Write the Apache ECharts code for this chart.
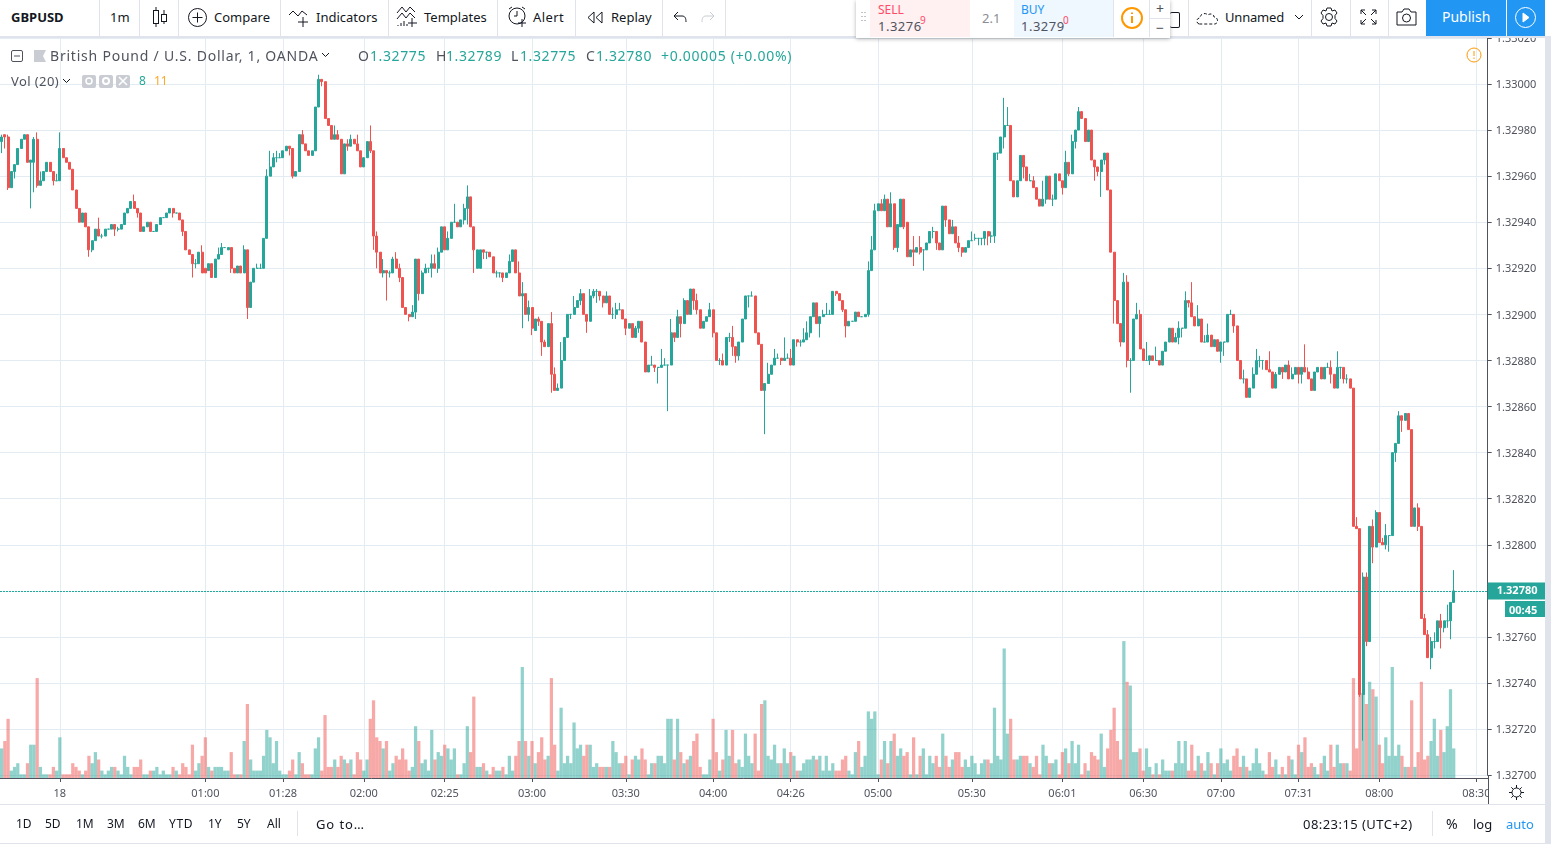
<!DOCTYPE html>
<html><head><meta charset="utf-8"><title>GBPUSD</title>
<script src="https://cdn.jsdelivr.net/npm/echarts@6/dist/echarts.min.js"></script>
<style>
html,body{margin:0;padding:0;background:#fff;overflow:hidden}
#chart{position:absolute;left:0;top:0;width:1551px;height:844px}
#ui{position:absolute;left:0;top:0;width:1551px;height:844px;pointer-events:none;font-family:"Noto Sans",sans-serif;color:#50535e}
#ui .t{position:absolute;white-space:nowrap;transform:translateY(-50%);line-height:1}
#ui .b{position:absolute}
#ui svg{position:absolute;overflow:visible;fill:none;stroke:#131722;stroke-width:1}
</style></head><body>
<div id="chart"></div><div id="ui"></div>
<script>
const priceBase = 1.32, pointSize = 0.00001;
const opens = [975,978,977,955,962,965,972,976,978,966,
966,976,956,958,962,966,962,958,958,972,
968,966,963,954,946,940,944,938,928,932,
937,934,934,937,937,939,937,937,939,944,
946,949,946,944,936,938,940,936,936,939,
942,942,944,946,944,944,941,936,928,926,
922,922,927,920,919,922,916,924,926,929,
928,929,920,918,921,918,928,903,914,920,
920,920,933,960,964,968,968,968,971,973,
972,960,962,978,974,971,969,971,990,1002,
1001,985,982,976,978,976,961,974,973,976,
974,971,964,968,975,971,934,927,918,919,
918,918,924,920,916,903,900,899,901,924,
909,918,920,920,922,920,927,938,928,933,
940,940,938,941,946,951,938,920,920,928,
927,927,925,918,918,918,916,918,923,928,
918,908,909,900,903,893,898,897,888,886,
896,874,867,868,880,890,900,900,903,906,
909,900,897,908,910,910,908,905,908,900,
900,902,902,898,894,896,890,894,897,888,
875,878,878,877,877,878,878,878,892,890,
899,896,906,900,911,906,902,894,897,899,
902,892,880,880,878,890,890,886,882,888,
898,908,908,908,892,887,867,870,874,878,
881,881,880,881,881,878,889,888,888,889,
892,899,905,896,899,900,900,900,910,909,
906,902,895,897,897,901,899,899,900,919,
928,945,948,945,950,938,948,929,938,950,
940,925,928,927,929,928,928,931,936,936,
931,928,947,941,935,938,931,929,927,929,
932,933,933,933,933,936,934,934,970,970,
977,982,982,958,951,958,969,964,958,958,
955,950,947,950,960,950,950,961,958,955,
966,961,975,980,988,985,975,980,967,964,
962,967,970,954,927,906,896,888,914,880,
880,898,900,885,880,880,882,880,880,878,
884,888,894,888,890,894,894,906,905,899,
895,898,888,888,891,886,889,884,888,888,
900,900,895,880,872,872,864,868,874,880,
880,880,876,875,868,874,877,875,878,872,
874,877,874,877,875,872,867,875,877,872,
877,877,874,868,877,877,872,872,868,808,
807,735,786,758,808,799,814,801,800,804,
804,840,844,856,854,857,850,808,816,808,
768,761,751,758,758,767,764,767,767,775];
const closes = [977,977,955,962,965,972,976,978,966,967,
976,956,958,962,966,962,958,958,972,968,
966,963,954,946,940,944,938,928,932,937,
934,934,937,937,939,937,937,939,944,946,
949,946,944,936,938,940,936,936,939,942,
942,944,946,944,944,941,936,928,926,922,
922,927,918,918,922,916,924,926,929,929,
929,920,918,921,918,928,903,914,920,920,
920,933,960,964,968,968,968,971,973,972,
960,962,978,974,971,969,971,990,1002,1001,
985,982,976,978,976,961,974,973,976,974,
971,964,968,975,971,934,927,918,919,918,
918,924,920,916,903,900,899,901,924,909,
918,920,920,922,920,927,938,928,933,940,
940,938,941,946,951,938,928,928,928,927,
927,925,918,918,918,916,918,923,928,918,
908,909,900,903,894,898,897,888,886,896,
874,867,868,880,890,900,900,903,906,909,
900,897,908,910,910,908,905,908,900,900,
902,902,898,894,896,890,894,897,888,875,
878,878,877,877,878,878,878,892,890,899,
896,906,900,911,906,902,894,897,899,902,
892,880,880,878,890,890,886,882,888,898,
908,908,908,892,887,867,870,874,878,881,
881,880,881,881,878,889,888,888,889,892,
899,905,896,899,900,900,900,910,909,906,
902,895,897,897,901,899,899,900,919,928,
945,948,945,950,938,948,929,939,950,938,
925,928,927,929,927,928,931,936,936,931,
928,947,941,935,938,931,929,927,929,932,
932,933,933,933,936,934,934,970,970,977,
982,982,958,951,958,969,964,958,958,955,
950,947,950,960,950,950,961,958,955,966,
961,975,980,988,985,975,980,967,964,962,
967,970,954,927,906,896,888,914,880,880,
898,900,885,880,880,882,880,880,878,884,
888,894,888,890,894,894,906,905,899,895,
898,888,888,891,886,889,884,888,888,900,
900,895,880,872,872,864,868,874,880,880,
880,876,875,868,874,877,875,878,872,874,
877,874,877,875,872,867,875,877,872,877,
877,874,868,877,877,872,872,868,808,807,
735,786,758,808,799,814,801,800,804,804,
840,844,856,854,857,850,808,816,808,768,
761,751,758,758,767,764,767,767,775,780];
const highs = [978,978,978,962,965,972,976,978,978,967,
977,979,962,962,966,966,962,961,979,972,
968,966,963,954,946,944,944,938,932,937,
942,935,937,937,939,939,938,939,944,946,
949,952,946,944,938,940,940,936,939,942,
942,944,946,946,944,944,941,936,928,926,
924,927,930,920,922,922,924,929,931,929,
929,929,920,921,921,930,928,914,920,922,
922,933,963,971,970,971,970,971,973,973,
972,962,978,980,974,971,971,990,1004,1002,
1001,985,982,982,980,976,974,976,978,976,
978,971,968,975,982,971,936,927,924,919,
919,925,927,922,916,903,900,904,924,924,
919,922,920,926,926,929,938,938,936,940,
948,940,941,948,956,951,938,928,928,928,
927,927,925,919,918,918,918,926,928,928,
923,914,909,906,903,898,899,897,889,896,
901,877,870,888,890,900,900,908,906,911,
909,900,911,911,911,910,908,910,908,903,
905,905,902,898,896,896,895,897,897,888,
878,882,878,877,885,881,878,898,892,902,
899,907,906,911,911,909,902,897,899,905,
902,892,881,883,890,892,895,886,888,898,
908,908,910,908,892,887,870,879,878,885,
883,881,890,883,885,889,889,889,894,897,
899,905,905,899,902,905,902,910,910,909,
906,902,897,897,901,901,899,900,923,934,
948,948,950,952,950,953,948,939,950,950,
940,928,934,929,934,928,931,936,938,936,
931,947,947,941,941,938,934,929,929,932,
936,935,933,933,936,936,936,970,970,977,
994,990,982,958,958,969,969,964,961,960,
955,950,958,960,960,952,961,961,958,971,
966,978,980,990,988,985,980,980,967,964,
967,970,970,954,927,906,896,918,917,881,
898,905,902,885,888,882,882,886,880,884,
888,894,894,892,897,894,910,906,914,899,
904,898,891,896,891,889,889,888,888,900,
902,900,895,880,876,872,868,877,885,882,
880,880,884,875,875,877,877,878,880,877,
877,877,877,887,877,872,875,877,877,877,
879,880,874,884,877,877,874,872,868,812,
807,788,788,808,811,815,814,803,809,804,
840,844,858,856,857,857,850,816,818,808,
770,763,760,762,767,770,767,774,775,789];
const lows = [970,972,954,955,959,965,972,976,966,946,
953,955,956,958,962,962,956,958,958,968,
966,963,954,946,940,940,938,925,927,932,
934,933,934,937,937,934,936,937,939,944,
946,946,942,936,936,938,936,936,936,939,
942,942,944,942,944,941,934,928,926,916,
920,922,918,918,919,916,916,924,926,929,
928,918,918,918,918,918,898,903,914,920,
920,920,933,960,964,966,968,968,971,969,
959,960,962,974,971,969,969,971,990,999,
985,982,976,976,976,961,961,971,973,974,
971,964,964,968,970,928,920,918,916,906,
916,918,920,914,903,900,897,899,898,906,
909,918,918,916,920,918,927,928,928,933,
940,938,938,939,939,938,918,920,920,924,
924,925,918,916,916,914,916,918,923,918,
908,894,900,897,891,893,895,882,886,886,
866,867,867,868,880,890,898,900,903,904,
900,892,897,907,905,906,903,905,900,898,
898,902,898,891,894,890,890,892,888,875,
875,878,875,870,877,878,858,878,888,890,
890,896,900,900,902,900,894,894,897,899,
890,880,878,878,878,888,882,879,880,888,
898,903,908,892,887,867,848,870,874,878,
881,878,880,881,878,878,886,886,888,889,
890,899,896,890,899,900,900,900,908,906,
901,890,895,897,897,899,899,899,899,919,
928,945,945,945,938,938,928,927,938,937,
925,925,921,927,926,919,928,931,933,928,
928,928,938,935,935,931,927,925,927,929,
932,932,930,930,930,930,931,931,967,970,
972,982,958,951,951,958,959,958,958,955,
950,947,947,948,950,947,950,958,952,955,
960,961,972,980,985,975,975,967,958,960,
951,965,954,927,896,896,886,888,877,866,
880,898,885,880,880,878,880,880,878,878,
884,888,888,888,887,890,894,903,899,895,
895,888,888,888,886,886,884,879,882,888,
900,892,880,872,870,864,864,868,874,877,
876,876,875,868,868,874,872,875,872,872,
874,870,870,875,872,867,867,875,872,872,
877,870,868,868,872,870,870,868,808,807,
734,715,756,758,792,799,801,800,798,797,
804,836,844,849,854,850,808,808,806,768,
761,751,746,755,758,755,762,764,759,775];
const volumes = [8,10,16,2,3,4,1,1,4,9,
9,27,3,1,1,1,3,2,11,1,
1,1,4,3,2,1,2,6,4,7,
5,2,1,2,3,3,2,1,6,3,
1,3,3,5,1,1,2,2,3,1,
2,1,1,3,2,1,4,3,1,9,
2,4,6,11,3,2,3,3,3,2,
2,7,1,1,1,10,20,5,2,2,
2,6,13,11,4,10,2,1,1,2,
5,1,7,4,1,1,1,8,11,2,
17,3,3,5,3,6,5,4,5,1,
7,5,2,5,16,21,11,10,8,10,
2,4,6,5,8,5,2,3,14,10,
4,5,2,13,5,7,6,9,8,5,
8,1,1,4,14,7,22,3,3,4,
2,1,3,2,2,3,1,6,2,6,
10,30,10,6,10,4,7,11,5,6,
27,9,2,19,4,6,4,15,8,9,
6,9,9,3,4,3,3,3,3,10,
7,4,4,6,1,5,6,5,8,5,
1,4,4,6,6,4,16,16,5,16,
7,4,5,6,10,12,3,1,1,5,
16,7,2,5,13,6,13,4,5,3,
12,6,4,12,2,20,21,6,5,9,
4,4,8,4,7,6,2,2,4,5,
5,6,5,6,2,6,2,4,2,2,
5,6,2,1,7,10,3,6,18,16,
18,1,5,10,4,10,12,6,8,6,
7,1,11,1,6,8,1,6,4,6,
3,12,6,3,5,7,7,3,5,3,
6,4,1,4,5,5,4,19,6,5,
35,12,16,5,5,6,6,6,4,3,
6,1,9,6,4,4,5,1,7,8,
4,10,4,9,1,4,2,7,6,5,
12,3,8,13,19,10,5,37,26,25,
7,7,8,2,8,3,1,4,1,5,
2,2,2,4,10,4,10,2,9,2,
6,4,2,7,4,1,4,8,4,5,
2,6,8,3,6,3,2,4,8,4,
2,1,7,3,5,1,3,1,6,5,
1,9,7,11,3,4,3,1,4,6,
2,9,3,9,4,4,4,2,27,8,
23,23,20,26,24,22,9,4,11,6,
30,6,9,6,3,3,21,3,7,26,
5,6,10,16,6,13,7,14,24,8];
const tickBars = [18,63,87,112,137,164,193,220,244,271,300,328,353,377,401,426,456];
const tickLabels = ['18','01:00','01:28','02:00','02:25','03:00','03:30','04:00','04:26','05:00','05:30','06:01','06:30','07:00','07:31','08:00','08:30'];
const lastPrice = 1.3278;
const slotCount = 460;

const UP='#26a69a', DOWN='#ef5350', GRID='#e3ecf2', TXT='#50535e', AXIS='#50535e';
const FONT='"Noto Sans",sans-serif';
const toPrice = p => +(priceBase + p*pointSize).toFixed(5);
const categories = Array.from({length:slotCount},(_,i)=>{const k=tickBars.indexOf(i);return k>=0?tickLabels[k]:'b'+i;});
const isTick = i => tickBars.indexOf(i)>=0;
const candles = opens.map((o,i)=>[toPrice(o),toPrice(closes[i]),toPrice(lows[i]),toPrice(highs[i])]);
const vols = volumes.map((v,i)=>({value:v,itemStyle:{color:closes[i]>=opens[i]?'rgba(38,166,154,0.5)':'rgba(239,83,80,0.5)'}}));

const chart = echarts.init(document.getElementById('chart'),null,{renderer:'canvas',width:1551,height:844});
chart.setOption({
  animation:false,
  textStyle:{fontFamily:FONT},
  grid:[{left:-1.32,width:1489,top:37.9,height:737.3},{left:-1.32,width:1489,top:630,height:148}],
  xAxis:[
    {type:'category',gridIndex:0,data:categories,boundaryGap:true,axisLine:{show:false},axisTick:{show:false},axisLabel:{show:false},
     splitLine:{show:true,alignWithLabel:true,interval:(i)=>isTick(i),lineStyle:{color:GRID,width:1}}},
    {type:'category',gridIndex:1,data:categories,boundaryGap:true,
     axisLine:{show:true,lineStyle:{color:AXIS,width:1}},
     axisTick:{show:true,alignWithLabel:true,interval:(i)=>isTick(i),length:4,lineStyle:{color:AXIS}},
     axisLabel:{show:true,interval:(i)=>isTick(i),color:TXT,fontSize:11,margin:10,hideOverlap:false},
     splitLine:{show:false}}
  ],
  yAxis:[
    {type:'value',gridIndex:0,position:'right',min:1.327,max:1.3302,interval:0.0002,scale:true,
     axisLine:{show:true,lineStyle:{color:AXIS}},axisTick:{show:true,length:4,lineStyle:{color:AXIS}},
     axisLabel:{color:TXT,fontSize:11,margin:8,verticalAlign:'middle',lineHeight:15,formatter:v=>'{a|'+v.toFixed(5)+'}',
       rich:{a:{color:TXT,fontSize:11,padding:[2,0,0,0]}}},
     splitLine:{show:true,lineStyle:{color:GRID,width:1}}},
    {type:'value',gridIndex:1,min:0,max:40,show:false}
  ],
  series:[
    {name:'Volume',type:'bar',xAxisIndex:1,yAxisIndex:1,data:vols,barWidth:'100%',z:1,silent:true},
    {name:'GBPUSD',type:'candlestick',xAxisIndex:0,yAxisIndex:0,data:candles,barWidth:2.5,z:3,silent:true,clip:false,
     itemStyle:{color:UP,color0:DOWN,borderColor:UP,borderColor0:DOWN,borderColorDoji:UP,borderWidth:1}},
    {name:'Last price',type:'line',xAxisIndex:0,yAxisIndex:0,data:[[0,lastPrice],[slotCount-1,lastPrice]],
     showSymbol:false,symbol:'none',silent:true,z:4,clip:false,lineStyle:{opacity:0},
     markLine:{silent:true,symbol:'none',animation:false,precision:5,
       lineStyle:{color:UP,type:[2,1],width:1,opacity:1},
       label:{show:true,position:'end',distance:0,formatter:lastPrice.toFixed(5),color:'#fff',fontSize:11,fontWeight:'bold',
              backgroundColor:UP,padding:[4,9,2,9]},
       data:[{yAxis:lastPrice}]}}
  ]
});

/* page chrome around the chart */
const ui=document.getElementById('ui');
function box(x,y,w,h,css){const d=document.createElement('div');d.className='b';d.style.cssText=`left:${x}px;top:${y}px;width:${w}px;height:${h}px;`+(css||'');ui.appendChild(d);return d;}
function txt(x,y,s,size,color,extra){const d=document.createElement('div');d.className='t';d.textContent=s;d.style.cssText=`left:${x}px;top:${y}px;font-size:${size}px;color:${color||TXT};`+(extra||'');ui.appendChild(d);return d;}
function svg(x,y,w,h,inner,extra){const s=document.createElementNS('http://www.w3.org/2000/svg','svg');s.setAttribute('width',w);s.setAttribute('height',h);s.setAttribute('viewBox',`0 0 ${w} ${h}`);s.style.cssText=`left:${x}px;top:${y}px;`+(extra||'');s.innerHTML=inner;ui.appendChild(s);}
const SEP='#e0e3eb';
/* masks that clip axis labels, as the panes do */
box(0,0,1551,36,'background:#fff');box(0,36,1551,1.5,'background:'+SEP);
box(1489,779,62,25,'background:#fff');
box(1545,37,6,807,'background:#e0e3eb');
/* top toolbar */
[99,139,178,280,388,497,575,662,725,1188,1311,1350,1388].forEach(x=>box(x,0,1,36,'background:'+SEP));
txt(11,17,'GBPUSD',13,'#131722','font-weight:700');
txt(110,17,'1m',13,'#131722');
svg(152,7,16,20,'<path d="M4 0v3M4 17v3M12 3v4M12 14v3"/><rect x="1.5" y="3.5" width="5" height="13"/><rect x="9.5" y="7.5" width="5" height="7"/>');
svg(188,8,19,19,'<circle cx="9.5" cy="9.5" r="9"/><path d="M9.5 4.5v10M4.5 9.5h10"/>');
txt(214,17,'Compare',13,'#131722');
svg(289,9,21,19,'<path d="M0 6l4-4 5 5 4-5 5 4M14 8v10M9 13h10"/>');
txt(316,17,'Indicators',13,'#131722');
svg(397,6,21,22,'<path d="M0 7l5-6 4 5 4-5 5 5M0 13l5-6 4 5 4-5 5 5M1 20v-1M4 20v-3M7 20v-5M10 20v-2M15 12v9M11 17h9"/>');
txt(424,17,'Templates',13,'#131722');
svg(507,6,21,22,'<circle cx="10" cy="10" r="8"/><path d="M10 5v5h-3M2 3l3-2M18 3l-3-2M15 13v8M11 17h8"/>');
txt(533,17,'Alert',13,'#131722','letter-spacing:.4px');
svg(587,11,16,13,'<path d="M7 1L1 6.5 7 12zM15 1L9 6.5 15 12z"/>');
txt(611,17,'Replay',13,'#131722');
svg(673,11,14,12,'<path d="M5 1L1 5l4 4M1 5h8c3 0 4 2 4 6"/>');
svg(701,11,14,12,'<path d="M9 1l4 4-4 4M13 5H5C2 5 1 7 1 11"/>','stroke:#c9ccd3');
/* right toolbar */
box(1170,12,9,14,'border:1px solid #131722;border-left:none;border-radius:2px');
svg(1196,8,24,18,'<path d="M3 16c-3-1-3-6 1-6 0-4 5-6 8-3 2-2 6-1 6 2 4 0 5 6 1 7z" stroke-dasharray="3 2"/>');
txt(1225,17,'Unnamed',13,'#131722','letter-spacing:-.2px');
svg(1295,15,9,5,'<path d="M0 0l4 4 4-4"/>');
svg(1319,7,20,20,'<circle cx="10" cy="10" r="3.5"/><path d="M8 1h4l1 3 3-1 2 3-2 2.500 0 3 2 2.500-2 3-3-1-1 3H8l-1-3-3 1-2-3 2-2.500 0-3-2-2.500 2-3 3 1z"/>');
svg(1360,9,17,16,'<path d="M1 5V1h4M12 1h4v4M1 11v4h4M12 15h4v-4M1 1l5 5M16 1l-5 5M1 15l5-5M16 15l-5-5"/>');
svg(1396,8,21,18,'<path d="M1 4h5l2-3h5l2 3h5v13H1z"/><circle cx="10.500" cy="10" r="4"/>');
box(1426,0,80,36,'background:#2196f3');
txt(1442,17,'Publish',14,'#fff');
box(1507,0,38,36,'background:#2196f3');
svg(1515,7,21,21,'<circle cx="10.500" cy="10.500" r="10"/><path d="M8 6l6 4.500-6 4.500z" fill="#fff"/>','stroke:#fff');
/* floating order panel */
box(856,0,314,38,'background:#fff;box-shadow:0 1px 4px rgba(0,0,0,.3)');
svg(861,12,5,12,'<path d="M1 0v1M4 0v1M1 4v1M4 4v1M1 8v1M4 8v1" stroke="#c0c3ca" stroke-width="2"/>');
box(870,0,100,37,'background:#fff0f1');
box(1014,0,99,37,'background:#eff7ff');
txt(878,10,'SELL',12,'#ff4a68');
txt(878,26,'1.3276',13,'#50535e','letter-spacing:.5px');
txt(920,20,'9',10,'#ff4a68');
txt(982,18,'2.1',13,'#8a8d95');
txt(1021,10,'BUY',12,'#2196f3');
txt(1021,26,'1.3279',13,'#50535e','letter-spacing:.5px');
txt(1063,20,'0',10,'#ff4a68');
box(1113,0,1,37,'background:'+SEP);box(1149,0,1,37,'background:'+SEP);box(1150,18,20,1,'background:'+SEP);
svg(1121,7,22,22,'<circle cx="11" cy="11" r="10" stroke="#ff9800" stroke-width="2"/><path d="M11 9v7M11 5.500v1.500" stroke="#ff9800" stroke-width="2"/>');
txt(1156,9,'+',14,'#50535e');txt(1156,28,'−',14,'#50535e');
/* legend */
svg(11,50,12,12,'<rect x=".5" y=".5" width="11" height="11" rx="1.500" stroke="#50535e"/><path d="M3 6h6" stroke="#50535e"/>');
svg(34,50,12,12,'<path d="M0 0h12l-3 6 3 6H0z" fill="#c9ccd3" stroke="none"/>');
txt(50,56,'British Pound / U.S. Dollar, 1, OANDA',14,TXT,'letter-spacing:.78px');
svg(322,53,8,5,'<path d="M0 0l3.500 3.500L7 0" stroke="#131722"/>');
const LS='letter-spacing:.6px';
txt(358,56,'O',14,TXT);txt(370,56,'1.32775',14,UP,LS);
txt(436,56,'H',14,TXT);txt(446,56,'1.32789',14,UP,LS);
txt(511,56,'L',14,TXT);txt(520,56,'1.32775',14,UP,LS);
txt(586,56,'C',14,TXT);txt(596,56,'1.32780',14,UP,LS);
txt(661,56,'+0.00005 (+0.00%)',14,UP,'letter-spacing:.7px');
txt(11,81,'Vol (20)',13,TXT,'letter-spacing:.4px');
svg(63,79,8,5,'<path d="M0 0l3.500 3.500L7 0" stroke="#131722"/>');
[82,99,116].forEach(x=>box(x,75,14,13,'background:#c9ccd3;border-radius:2px'));
svg(85,77,8,8,'<circle cx="4" cy="4" r="3" stroke="#fff" stroke-width="1.500"/>');
svg(102,77,8,8,'<circle cx="4" cy="4" r="3" stroke="#fff" stroke-width="2"/>');
svg(119,77,8,8,'<path d="M0 0l8 8M8 0L0 8" stroke="#fff" stroke-width="1.500"/>');
txt(139,81,'8',12,UP);txt(154,81,'11',12,'#ffa726');
svg(1466,47,16,16,'<circle cx="8" cy="8" r="7" stroke="#ff9800"/><path d="M8 4v5M8 10.500v1.500" stroke="#ff9800"/>');
/* countdown under the last price */
box(1505,601,40,16,'background:'+UP);
txt(1509,609,'00:45',11,'#fff','font-weight:700');
/* bottom bars */
box(1488,775,1,29,'background:'+AXIS);
box(0,804,1545,1,'background:'+SEP);box(0,843,1551,1,'background:'+SEP);
svg(1509,785,15,15,'<circle cx="7.500" cy="7.500" r="4.500"/><path d="M7.500 0v3M7.500 12v3M0 7.500h3M12 7.500h3M2.300 2.300l2 2M10.700 10.700l2 2M2.300 12.700l2-2M10.700 4.300l2-2"/>');
[['1D',16],['5D',45],['1M',76],['3M',107],['6M',138],['YTD',169,'letter-spacing:.6px'],['1Y',208],['5Y',237],['All',267]].forEach(a=>txt(a[1],824,a[0],12,'#131722',a[2]||''));
box(297,811,1,25,'background:'+SEP);
txt(316,824,'Go to…',13,'#131722','letter-spacing:.9px');
txt(1303,824,'08:23:15 (UTC+2)',13,'#131722','letter-spacing:.45px');
box(1432,811,1,25,'background:'+SEP);
txt(1446,824,'%',14,'#131722');txt(1473,824,'log',13,'#131722');txt(1506,824,'auto',13,'#2196f3');
</script></body></html>
